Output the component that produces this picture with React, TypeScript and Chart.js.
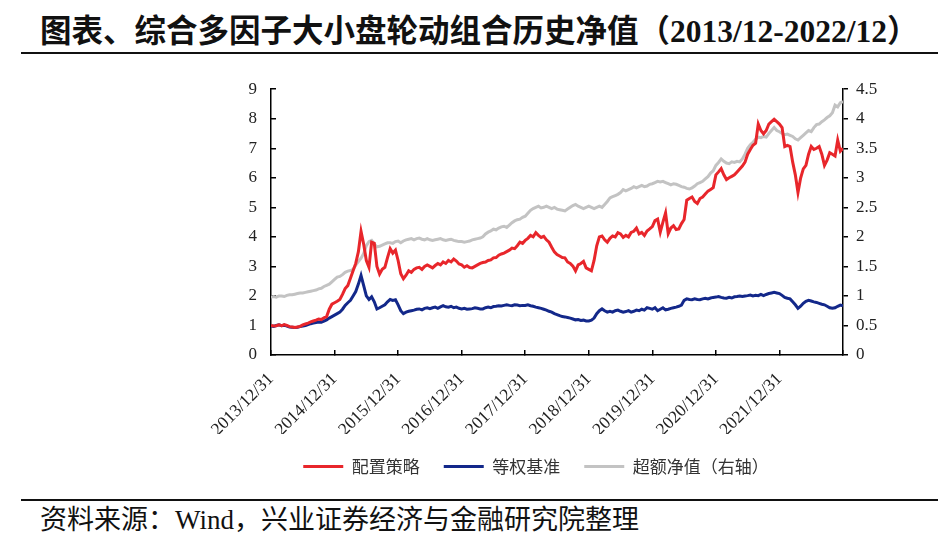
import React, { useEffect, useRef } from 'react';
import { Chart, registerables } from 'chart.js';

Chart.register(...registerables);

const TITLE = '图表、综合多因子大小盘轮动组合历史净值（2013/12-2022/12）';
const SOURCE = '资料来源：Wind，兴业证券经济与金融研究院整理';

const seriesNames = ['配置策略', '等权基准', '超额净值（右轴）'];

// one tick every 24 half-month periods (one year)
const xTickLabels = [
  '2013/12/31', '2014/12/31', '2015/12/31', '2016/12/31', '2017/12/31',
  '2018/12/31', '2019/12/31', '2020/12/31', '2021/12/31', '',
];

// semi-monthly values, 2013/12/31 .. 2022/12/31 (217 points)
const strategy = [
  1.00, 0.98, 0.99, 1.02, 0.99, 1.03, 1.00, 0.96, 0.95, 0.93, 0.95, 0.97, 1.02, 1.05, 1.08, 1.12, 1.15, 1.18, 1.22, 1.20, 1.26, 1.30, 1.55, 1.72,
  1.77, 1.82, 1.88, 2.05, 2.25, 2.35, 2.60, 2.85, 3.10, 3.50, 4.19, 3.75, 3.20, 2.97, 3.82, 3.78, 3.00, 2.74, 2.90, 2.97, 3.30, 3.60, 3.45, 3.55,
  3.20, 2.75, 2.58, 2.70, 2.85, 2.80, 2.90, 2.95, 2.97, 2.90, 3.00, 3.05, 3.00, 2.95, 3.03, 3.10, 3.05, 3.15, 3.10, 3.20, 3.15, 3.25, 3.18, 3.08,
  3.05, 2.97, 3.02, 2.96, 2.95, 3.00, 3.05, 3.10, 3.13, 3.15, 3.20, 3.22, 3.29, 3.30, 3.38, 3.42, 3.45, 3.50, 3.55, 3.62, 3.60, 3.70, 3.82, 3.78,
  3.88, 3.95, 4.05, 4.00, 4.14, 4.05, 3.98, 4.02, 3.90, 3.82, 3.65, 3.49, 3.40, 3.35, 3.30, 3.29, 3.15, 3.10, 3.01, 2.85, 3.05, 3.10, 3.17, 2.95,
  2.90, 2.85, 3.20, 3.70, 4.00, 4.03, 3.90, 3.82, 3.95, 4.03, 4.00, 4.14, 4.10, 3.98, 4.05, 4.00, 4.15, 4.19, 4.30, 4.10, 4.15, 4.05, 4.20, 4.27,
  4.35, 4.55, 4.60, 4.16, 4.50, 4.81, 4.11, 4.30, 4.38, 4.25, 4.27, 4.45, 4.59, 5.24, 5.30, 5.35, 5.20, 5.13, 5.30, 5.35, 5.45, 5.55, 5.60, 5.67,
  6.10, 6.20, 6.31, 6.10, 5.94, 6.00, 6.05, 6.10, 6.20, 6.30, 6.40, 6.53, 6.80, 6.96, 7.10, 7.17, 7.82, 7.60, 7.49, 7.60, 7.82, 7.90, 7.98, 7.90,
  7.82, 7.70, 7.06, 7.10, 7.06, 6.53, 6.10, 5.50, 5.99, 6.30, 6.42, 6.80, 7.06, 6.96, 7.00, 7.06, 6.80, 6.42, 6.60, 6.85, 6.80, 6.74, 7.28, 6.90, 7.00,
];

const benchmark = [
  0.98, 0.97, 1.00, 1.02, 0.99, 1.01, 0.98, 0.95, 0.94, 0.93, 0.94, 0.96, 0.98, 1.00, 1.03, 1.06, 1.08, 1.10, 1.12, 1.11, 1.15, 1.19, 1.25, 1.30,
  1.35, 1.40, 1.45, 1.55, 1.68, 1.77, 1.85, 2.00, 2.15, 2.40, 2.69, 2.35, 2.00, 1.88, 1.97, 1.80, 1.56, 1.60, 1.65, 1.70, 1.80, 1.88, 1.85, 1.87,
  1.70, 1.50, 1.40, 1.45, 1.48, 1.50, 1.52, 1.55, 1.56, 1.53, 1.58, 1.60, 1.57, 1.60, 1.62, 1.58, 1.63, 1.67, 1.63, 1.62, 1.65, 1.60, 1.62, 1.58,
  1.56, 1.58, 1.55, 1.56, 1.57, 1.60, 1.58, 1.56, 1.56, 1.60, 1.62, 1.60, 1.64, 1.65, 1.67, 1.66, 1.68, 1.70, 1.68, 1.67, 1.70, 1.69, 1.67, 1.68,
  1.68, 1.70, 1.67, 1.65, 1.62, 1.60, 1.58, 1.55, 1.52, 1.48, 1.45, 1.40, 1.37, 1.33, 1.30, 1.29, 1.27, 1.25, 1.22, 1.19, 1.20, 1.17, 1.18, 1.15,
  1.15, 1.18, 1.25, 1.40, 1.50, 1.56, 1.50, 1.45, 1.48, 1.45, 1.50, 1.52, 1.48, 1.45, 1.47, 1.50, 1.45, 1.48, 1.52, 1.50, 1.55, 1.52, 1.60, 1.58,
  1.55, 1.60, 1.50, 1.55, 1.60, 1.53, 1.55, 1.58, 1.60, 1.62, 1.65, 1.69, 1.85, 1.90, 1.88, 1.87, 1.90, 1.88, 1.87, 1.90, 1.92, 1.90, 1.93, 1.95,
  1.96, 1.98, 1.95, 1.93, 1.92, 1.95, 1.93, 1.97, 1.98, 2.00, 1.98, 2.00, 2.01, 2.03, 2.00, 2.02, 2.01, 2.05, 2.01, 2.05, 2.08, 2.10, 2.12, 2.10,
  2.08, 2.02, 1.95, 1.92, 1.90, 1.80, 1.70, 1.58, 1.65, 1.75, 1.82, 1.85, 1.83, 1.80, 1.78, 1.75, 1.72, 1.70, 1.65, 1.60, 1.58, 1.60, 1.65, 1.69, 1.67,
];

const excess = [
  0.98, 0.99, 0.98, 1.00, 1.00, 0.99, 1.01, 1.02, 1.02, 1.03, 1.04, 1.05, 1.05, 1.06, 1.07, 1.08, 1.09, 1.10, 1.12, 1.13, 1.16, 1.18, 1.20, 1.24,
  1.28, 1.32, 1.33, 1.36, 1.40, 1.42, 1.43, 1.45, 1.52, 1.58, 1.64, 1.72, 1.85, 1.92, 1.94, 1.88, 1.83, 1.84, 1.86, 1.88, 1.90, 1.90, 1.89, 1.92,
  1.93, 1.90, 1.93, 1.95, 1.96, 1.97, 1.95, 1.97, 1.98, 1.96, 1.95, 1.97, 1.95, 1.94, 1.95, 1.96, 1.97, 1.95, 1.94, 1.95, 1.96, 1.94, 1.93, 1.92,
  1.92, 1.91, 1.92, 1.93, 1.95, 1.96, 1.97, 1.98, 2.00, 2.05, 2.08, 2.10, 2.13, 2.12, 2.15, 2.17, 2.18, 2.16, 2.20, 2.24, 2.27, 2.29, 2.30, 2.33,
  2.35, 2.40, 2.45, 2.48, 2.50, 2.52, 2.49, 2.50, 2.52, 2.50, 2.48, 2.50, 2.47, 2.46, 2.45, 2.44, 2.47, 2.50, 2.53, 2.55, 2.52, 2.50, 2.48, 2.50,
  2.52, 2.50, 2.48, 2.50, 2.52, 2.50, 2.55, 2.60, 2.66, 2.68, 2.70, 2.72, 2.75, 2.80, 2.78, 2.80, 2.82, 2.85, 2.83, 2.85, 2.87, 2.85, 2.86, 2.89,
  2.90, 2.92, 2.94, 2.93, 2.94, 2.92, 2.90, 2.88, 2.90, 2.89, 2.87, 2.85, 2.84, 2.82, 2.81, 2.83, 2.86, 2.90, 2.92, 2.94, 2.98, 3.02, 3.08, 3.12,
  3.21, 3.26, 3.32, 3.28, 3.25, 3.24, 3.27, 3.26, 3.28, 3.27, 3.32, 3.40, 3.50, 3.56, 3.60, 3.65, 3.69, 3.68, 3.70, 3.69, 3.75, 3.80, 3.85, 3.80,
  3.78, 3.75, 3.73, 3.74, 3.72, 3.70, 3.66, 3.64, 3.68, 3.72, 3.76, 3.80, 3.78, 3.85, 3.90, 3.91, 3.95, 3.98, 4.02, 4.05, 4.10, 4.23, 4.20, 4.27, 4.29,
];

const RED = '#E8262B';
const BLUE = '#13288A';
const GRAY = '#C3C3C3';

const SERIF = '"Liberation Serif", "Times New Roman", serif';
const CJK = '"Liberation Serif", "Noto Sans CJK SC", serif';

const toPoints = (arr: number[]) => arr.map((y, i) => ({ x: i, y }));

export default function App() {
  const canvasRef = useRef<HTMLCanvasElement | null>(null);

  useEffect(() => {
    if (!canvasRef.current) return;
    const lastIndex = strategy.length - 1;
    const chart = new Chart(canvasRef.current, {
      type: 'line',
      data: {
        datasets: [
          { label: seriesNames[0], data: toPoints(strategy), borderColor: RED, backgroundColor: RED, borderWidth: 3, pointRadius: 0, yAxisID: 'y' },
          { label: seriesNames[1], data: toPoints(benchmark), borderColor: BLUE, backgroundColor: BLUE, borderWidth: 3, pointRadius: 0, yAxisID: 'y' },
          { label: seriesNames[2], data: toPoints(excess), borderColor: GRAY, backgroundColor: GRAY, borderWidth: 3, pointRadius: 0, yAxisID: 'y1' },
        ],
      },
      options: {
        animation: false,
        responsive: false,
        maintainAspectRatio: false,
        layout: { padding: { left: 144, right: 10, top: 16, bottom: 0 } },
        plugins: {
          tooltip: { enabled: false },
          legend: {
            position: 'bottom',
            labels: {
              boxWidth: 40,
              boxHeight: 3,
              padding: 24,
              color: '#333',
              font: { family: '"Noto Sans CJK SC", sans-serif', size: 17 },
              generateLabels: (c: any) =>
                Chart.defaults.plugins.legend.labels.generateLabels(c).map((l: any) => ({ ...l, lineWidth: 0 })),
            },
          },
        },
        scales: {
          x: {
            type: 'linear',
            min: 0,
            max: lastIndex,
            afterFit: (s: any) => { s.height = 79; },
            ticks: {
              stepSize: 24,
              autoSkip: false,
              minRotation: 45,
              maxRotation: 45,
              padding: 19,
              color: '#222',
              font: { family: SERIF, size: 17.5 },
              callback: (v: any) => xTickLabels[Math.round(Number(v) / 24)] ?? '',
            },
            grid: { drawOnChartArea: false, drawTicks: true, tickLength: -5, color: '#000', lineWidth: 1.5 },
            border: { display: true, color: '#000', width: 1.5 },
          },
          y: {
            position: 'left',
            min: 0,
            max: 9,
            afterFit: (s: any) => { s.width = 127; },
            ticks: { stepSize: 1, padding: 19, color: '#222', font: { family: SERIF, size: 17 } },
            grid: { drawOnChartArea: false, drawTicks: true, tickLength: -5, color: '#000', lineWidth: 1.5 },
            border: { display: true, color: '#000', width: 1.5 },
          },
          y1: {
            position: 'right',
            min: 0,
            max: 4.5,
            afterFit: (s: any) => { s.width = 85; },
            ticks: { stepSize: 0.5, padding: 8, color: '#222', font: { family: SERIF, size: 17 }, callback: (v: any) => String(Number(v)) },
            grid: { drawOnChartArea: false, drawTicks: true, tickLength: 5, color: '#000', lineWidth: 1.5 },
            border: { display: true, color: '#000', width: 1.5 },
          },
        },
      },
    } as any);
    return () => chart.destroy();
  }, []);

  return (
    <div style={{ position: 'absolute', left: 0, top: 0, width: 938, height: 533, background: '#fff', overflow: 'hidden' }}>
      <div style={{ position: 'absolute', left: 40, top: 13, whiteSpace: 'nowrap', fontFamily: CJK, fontWeight: 700, fontSize: 31.5, lineHeight: '38px', color: '#111' }}>
        {TITLE}
      </div>
      <div style={{ position: 'absolute', left: 21, top: 52, width: 917, height: 2, background: '#111' }} />
      <canvas ref={canvasRef} width={938} height={425} style={{ position: 'absolute', left: 0, top: 60, width: 938, height: 425 }} />
      <div style={{ position: 'absolute', left: 21, top: 499, width: 917, height: 2, background: '#111' }} />
      <div style={{ position: 'absolute', left: 40, top: 504, whiteSpace: 'nowrap', fontFamily: CJK, fontSize: 27, lineHeight: '32px', color: '#111' }}>
        {SOURCE}
      </div>
    </div>
  );
}
